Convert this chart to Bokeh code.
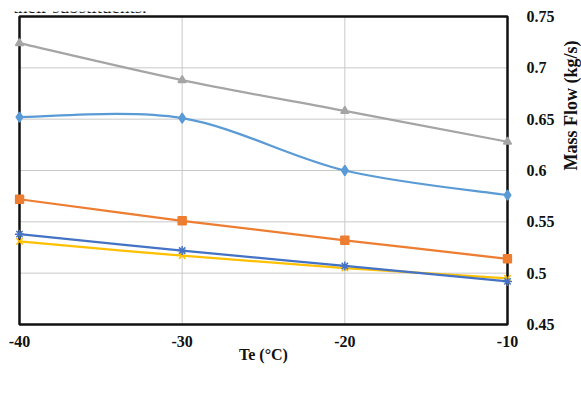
import math
from bokeh.plotting import figure
from bokeh.models import (Range1d, FixedTicker, Legend, LegendItem, Label)
from bokeh.embed import file_html
from bokeh.resources import INLINE

# ---------------- data ----------------
te = [-40, -30, -20, -10]
r513 = [0.652, 0.651, 0.600, 0.576]
r134 = [0.572, 0.551, 0.532, 0.514]
r1234 = [0.724, 0.688, 0.658, 0.628]
r12 = [0.531, 0.517, 0.505, 0.495]
r409 = [0.538, 0.522, 0.507, 0.492]

series_names = ["R513", "R134", "R1234", "R12", "R409"]
series_values = [r513, r134, r1234, r12, r409]

x_ticks = [-40, -30, -20, -10]
x_tick_labels = ["-40", "-30", "-20", "-10"]
y_ticks = [0.45, 0.5, 0.55, 0.6, 0.65, 0.7, 0.75]
y_tick_labels = ["0.45", "0.5", "0.55", "0.6", "0.65", "0.7", "0.75"]

x_title = "Te (°C)"
y_title = "Mass Flow (kg/s)"
caption = "d their substituents."

# ---------------- style ----------------
colors = ["#5B9BD5", "#ED7D31", "#A5A5A5", "#FFC000", "#4472C4"]
markers = ["diamond", "square", "triangle", "x", "asterisk"]
msizes = [10, 8, 8, 9, 9]
FONT = "Liberation Serif"

x0, x1 = x_ticks[0], x_ticks[-1]
y0, y1 = y_ticks[0], y_ticks[-1]
xpad = (x1 - x0) * 5 / 488
ypad = (y1 - y0) * 5 / 308

p = figure(frame_width=498, frame_height=318,
           output_backend="svg", toolbar_location=None,
           x_range=Range1d(x0 - xpad, x1 + xpad),
           y_range=Range1d(y0 - ypad, y1 + ypad),
           y_axis_location="right",
           min_border_left=14, min_border_right=0,
           min_border_top=11, min_border_bottom=0)
p.outline_line_color = None
p.background_fill_color = "white"
p.border_fill_color = "white"
p.grid.visible = False

# gridlines from tick values
gy = y_ticks[1:-1]
p.segment(x0=[x0] * len(gy), x1=[x1] * len(gy), y0=gy, y1=gy,
          line_color="#C8C8C8", line_width=1)
gx = x_ticks[1:-1]
p.segment(x0=gx, x1=gx, y0=[y0] * len(gx), y1=[y1] * len(gx),
          line_color="#C8C8C8", line_width=1)

# plot border
p.quad(left=[x0], right=[x1], bottom=[y0], top=[y1], fill_color=None,
       line_color="#111111", line_width=2.5)

# axes
p.xaxis.ticker = FixedTicker(ticks=x_ticks)
p.yaxis.ticker = FixedTicker(ticks=y_ticks)
p.xaxis.major_label_overrides = {t: l for t, l in zip(x_ticks, x_tick_labels)}
p.yaxis.major_label_overrides = {t: l for t, l in zip(y_ticks, y_tick_labels)}
for ax in (p.xaxis[0], p.yaxis[0]):
    ax.axis_line_color = None
    ax.major_tick_line_color = None
    ax.minor_tick_line_color = None
    ax.major_label_text_font = FONT
    ax.major_label_text_font_style = "bold"
    ax.major_label_text_font_size = "16px"
    ax.major_label_text_color = "#111111"
    ax.axis_label_text_font = FONT
    ax.axis_label_text_font_style = "bold"
    ax.axis_label_text_color = "#111111"
p.xaxis.major_label_standoff = 0
p.yaxis.major_label_standoff = 8
p.xaxis.axis_label = x_title
p.xaxis.axis_label_text_font_size = "16px"
p.xaxis.axis_label_standoff = -4
p.yaxis.axis_label = y_title
p.yaxis.axis_label_text_font_size = "18px"
p.yaxis.axis_label_standoff = 13
p.yaxis.axis_label_orientation = math.pi / 2


def smooth(xs, ys):
    # Catmull-Rom style bezier control points (like spreadsheet smoothed lines)
    n = len(xs)
    P = list(zip(xs, ys))
    out = {k: [] for k in ("x0", "y0", "x1", "y1", "cx0", "cy0", "cx1", "cy1")}
    for i in range(n - 1):
        pm = P[i - 1] if i > 0 else P[i]
        pa = P[i]
        pb = P[i + 1]
        pp = P[i + 2] if i + 2 < n else P[i + 1]
        out["x0"].append(pa[0]); out["y0"].append(pa[1])
        out["x1"].append(pb[0]); out["y1"].append(pb[1])
        out["cx0"].append(pa[0] + (pb[0] - pm[0]) / 6)
        out["cy0"].append(pa[1] + (pb[1] - pm[1]) / 6)
        out["cx1"].append(pb[0] - (pp[0] - pa[0]) / 6)
        out["cy1"].append(pb[1] - (pp[1] - pa[1]) / 6)
    return out


items = []
for name, vals, c, m, s in zip(series_names, series_values, colors, markers, msizes):
    b = smooth(te, vals)
    br = p.bezier(line_color=c, line_width=2.25, **b)
    sr = p.scatter(te, vals, marker=m, size=s, fill_color=c, line_color=c,
                   line_width=1.5)
    items.append(LegendItem(label=name, renderers=[br, sr]))

legend = Legend(items=items, orientation="horizontal", location="top_center",
                glyph_width=31, glyph_height=20, label_height=20,
                label_standoff=3, spacing=16, padding=0, margin=0,
                border_line_color=None, background_fill_alpha=0,
                label_text_font=FONT, label_text_font_style="bold",
                label_text_font_size="19px", label_text_color="#111111")
p.add_layout(legend, "below")

p.add_layout(Label(x=-16, y=323, x_units="screen", y_units="screen",
                   text=caption, text_align="left", text_baseline="alphabetic",
                   text_font=FONT, text_font_size="19px", text_color="#111111"))

open("out.html", "w").write(file_html(p, INLINE))
